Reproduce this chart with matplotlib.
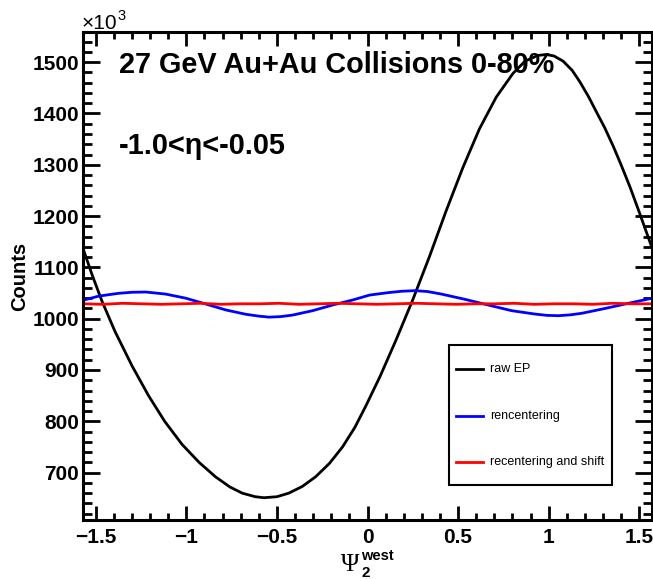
import numpy as np
import matplotlib
matplotlib.use("Agg")
import matplotlib.pyplot as plt
from matplotlib.ticker import MultipleLocator, FuncFormatter
from matplotlib.patches import Rectangle
from matplotlib.lines import Line2D

plt.rcParams['font.family'] = ['Liberation Sans', 'DejaVu Sans']
plt.rcParams['font.weight'] = 'bold'

# ---------------- data (counts in units of 10^3) ----------------
raw_x = [-1.569, -1.52, -1.467, -1.394, -1.30, -1.209, -1.12, -1.024, -0.93, -0.840,
         -0.76, -0.692, -0.62, -0.572, -0.50, -0.434, -0.36, -0.286, -0.21, -0.138,
         -0.07, -0.009, 0.07, 0.157, 0.249, 0.342, 0.434, 0.526, 0.618, 0.711,
         0.803, 0.87, 0.94, 0.987, 1.03, 1.080, 1.13, 1.172, 1.22, 1.264,
         1.31, 1.357, 1.40, 1.449, 1.50, 1.569]
raw_y = [1135, 1085, 1035, 975, 908, 850, 800, 755, 720, 692,
         672, 660, 653, 651, 653, 660, 673, 692, 718, 750,
         788, 830, 888, 958, 1036, 1121, 1210, 1294, 1370, 1432,
         1478, 1502, 1513, 1515, 1512, 1502, 1484, 1462, 1433, 1403,
         1372, 1336, 1300, 1257, 1208, 1140]

rec_x = [-1.569, -1.484, -1.373, -1.30, -1.225, -1.115, -1.004, -0.893, -0.782, -0.672,
         -0.60, -0.543, -0.48, -0.414, -0.303, -0.192, -0.081, 0.011, 0.112, 0.19,
         0.260, 0.33, 0.408, 0.537, 0.666, 0.796, 0.925, 0.99, 1.054, 1.12,
         1.183, 1.312, 1.441, 1.569]
rec_y = [1036, 1044, 1049.5, 1051.5, 1052, 1048, 1040, 1028.6, 1017, 1008.6,
         1005, 1003, 1004, 1007, 1015.6, 1026.7, 1036.5, 1046, 1050.7, 1053.5,
         1054.6, 1053, 1048, 1037.8, 1026.7, 1015.6, 1009, 1006.5, 1005.8, 1007.5,
         1010.5, 1020, 1030, 1039.8]

shift_y = [1029, 1028, 1030, 1029, 1028, 1029, 1030, 1028, 1029, 1029,
           1030, 1028, 1029, 1030, 1029, 1028, 1029, 1030, 1029, 1028,
           1029, 1029, 1030, 1028, 1029, 1029, 1028, 1030, 1029, 1029]
shift_x = np.linspace(-1.569, 1.569, len(shift_y))

xticks = [-1.5, -1.0, -0.5, 0.0, 0.5, 1.0, 1.5]
yticks = [700, 800, 900, 1000, 1100, 1200, 1300, 1400, 1500]
legend_labels = ["raw EP", "rencentering", "recentering and shift"]
colors = ["black", "#0000ff", "#ff0000"]

# ---------------- figure ----------------
W, H = 653, 579
fig = plt.figure(figsize=(W / 100, H / 100), dpi=100)
ax = fig.add_axes([83 / W, 59 / H, 569 / W, 488 / H])

ax.plot(raw_x, raw_y, color=colors[0], lw=2.0)
ax.plot(rec_x, rec_y, color=colors[1], lw=2.0)
ax.plot(shift_x, shift_y, color=colors[2], lw=2.0)

ax.set_xlim(-np.pi / 2, np.pi / 2)
ax.set_ylim(607.6, 1558.8)
ax.set_xticks(xticks)
ax.set_yticks(yticks)
ax.xaxis.set_minor_locator(MultipleLocator(0.1))
ax.yaxis.set_minor_locator(MultipleLocator(20))
ax.xaxis.set_major_formatter(FuncFormatter(lambda v, p: ('%g' % v).replace('-', '\u2212')))
ax.yaxis.set_major_formatter(FuncFormatter(lambda v, p: '%d' % v))

for s in ax.spines.values():
    s.set_linewidth(2.2)
ax.tick_params(which='both', direction='in', top=True, right=True, width=2, labelsize=15)
ax.tick_params(axis='x', which='major', length=10, pad=6)
ax.tick_params(axis='x', which='minor', length=5)
ax.tick_params(axis='y', which='major', length=12, pad=3)
ax.tick_params(axis='y', which='minor', length=6.5)

def fx(px):
    return px / W

def fy(py):
    return 1 - py / H

# texts
fig.text(fx(119), fy(73), "27 GeV Au+Au Collisions 0-80%", fontsize=20.8,
         ha='left', va='baseline', weight='bold')
fig.text(fx(119), fy(154), "-1.0<η<-0.05", fontsize=20.8,
         ha='left', va='baseline', weight='bold')
fig.text(fx(20), fy(276), "Counts", rotation=90, ha='center', va='center',
         fontsize=14.5, weight='bold')
fig.text(fx(82), fy(29), "\u00d710", fontsize=15, ha='left', va='baseline', weight='normal')
fig.text(fx(117), fy(20), "3", fontsize=10.5, ha='left', va='baseline', weight='normal')

# x label pieces: Psi_2^west
fig.text(fx(341), fy(571), "\u03a8", fontsize=18, ha='left', va='baseline',
         family=['Liberation Serif', 'DejaVu Serif'], weight='normal')
fig.text(fx(361), fy(560), "west", fontsize=10.5, ha='left', va='baseline', weight='bold')
fig.text(fx(361), fy(577), "2", fontsize=11, ha='left', va='baseline', weight='bold')

# legend (manual)
fig.patches.append(Rectangle((fx(449), fy(485)), (612 - 449) / W, (485 - 345) / H,
                             transform=fig.transFigure, facecolor='white',
                             edgecolor='black', lw=1.5, zorder=5))
for lab, col, yy in zip(legend_labels, colors, [369, 416, 462]):
    fig.lines.append(Line2D([fx(456), fx(483)], [fy(yy), fy(yy)], color=col, lw=2,
                            transform=fig.transFigure, zorder=6))
    fig.text(fx(490), fy(yy), lab, fontsize=9, ha='left', va='center',
             weight='normal', zorder=6)

fig.savefig("out.png", dpi=100)
